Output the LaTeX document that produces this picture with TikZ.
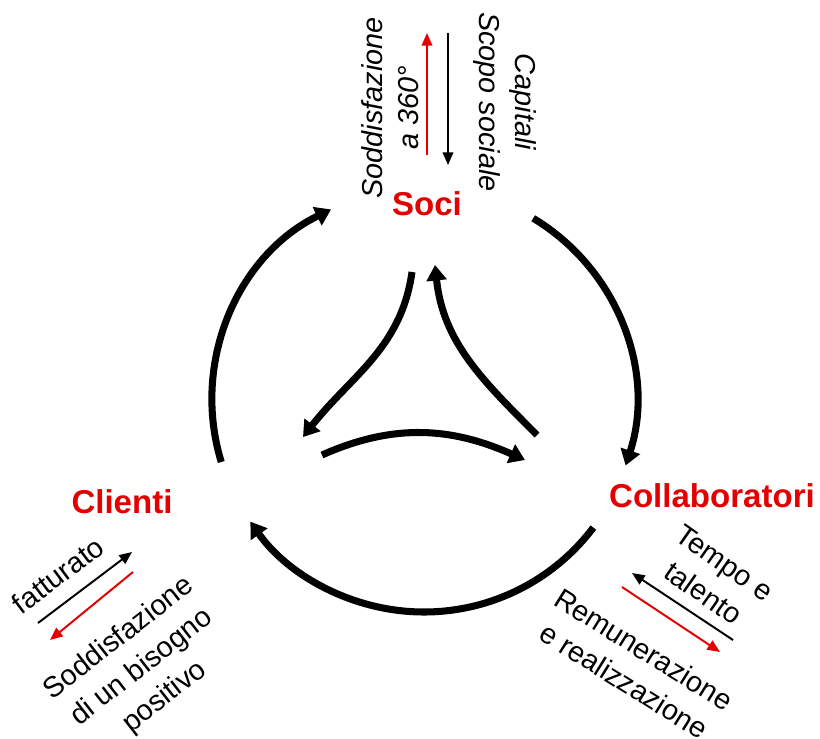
\documentclass[tikz,border=0pt]{standalone}
\usepackage{fontspec}
\setmainfont{Liberation Sans}
\usetikzlibrary{arrows.meta}
\definecolor{flowred}{RGB}{228,0,0}

\begin{document}
\begin{tikzpicture}[x=0.025cm,y=0.025cm,
  bigarrow/.style={line width=5pt,-{Triangle[length=11pt,width=14pt]}},
  thinarrow/.style={line width=1.4pt,-{Triangle[length=9pt,width=7.5pt]}},
  actor/.style={font=\fontsize{23.5}{26}\selectfont\bfseries,text=flowred,inner sep=0pt},
  flowtext/.style={font=\fontsize{20.5}{26.5}\selectfont,align=center,inner sep=0pt}]
\useasboundingbox (0,0) rectangle (820,738);

% actors
\node[actor] (soci) at (427,534) {Soci};
\node[actor] (clienti) at (122,236) {Clienti};
\node[actor] (collab) at (712,242) {Collaboratori};

% outer ring
\coordinate (ring) at (424,338);
\draw[bigarrow] ([shift={(197:212)}]ring) arc[start angle=197,end angle=116,radius=212];
\draw[bigarrow] ([shift={(59:212)}]ring) arc[start angle=59,end angle=-18,radius=212];
\draw[bigarrow] ([shift={(-37:212)}]ring) arc[start angle=-37,end angle=-145,radius=212];

% inner triangle
\coordinate (inLa) at (412,466);
\coordinate (inLb) at (303,301);
\coordinate (inRa) at (537,303);
\coordinate (inRb) at (435,473);
\coordinate (inBa) at (322,283);
\coordinate (inBb) at (525,278);
\draw[bigarrow] (inLa) to[out=-98,in=52] (inLb);
\draw[bigarrow] (inRa) to[out=135,in=-84] (inRb);
\draw[bigarrow] (inBa) to[out=24,in=156] (inBb);

% soci flows
\coordinate (sociRa) at (427,583);
\coordinate (sociRb) at (427,705);
\coordinate (sociKa) at (448,705);
\coordinate (sociKb) at (448,573);
\draw[thinarrow,flowred] (sociRa) -- (sociRb);
\draw[thinarrow] (sociKa) -- (sociKb);
\node[flowtext,font=\fontsize{20.5}{26}\selectfont\itshape,rotate=90] (sociIn) at (390,630) {Soddisfazione\\a 360°};
\node[flowtext,font=\fontsize{20.5}{26}\selectfont\itshape,rotate=-90] (sociOut) at (505,636) {Capitali\\Scopo sociale};

% clienti flows
\coordinate (cliKa) at (38,115);
\coordinate (cliKb) at (132,186);
\coordinate (cliRa) at (133,166);
\coordinate (cliRb) at (50,98);
\draw[thinarrow] (cliKa) -- (cliKb);
\draw[thinarrow,flowred] (cliRa) -- (cliRb);
\node[flowtext,rotate=37] (cliIn) at (58,163) {fatturato};
\node[flowtext,rotate=38] (cliOut) at (142,70) {Soddisfazione\\di un bisogno\\positivo};

% collaboratori flows
\coordinate (colKa) at (733,98);
\coordinate (colKb) at (632,165);
\coordinate (colRa) at (622,151);
\coordinate (colRb) at (720,86);
\draw[thinarrow] (colKa) -- (colKb);
\draw[thinarrow,flowred] (colRa) -- (colRb);
\node[flowtext,rotate=-35] (colIn) at (714,160) {Tempo e\\talento};
\node[flowtext,rotate=-32] (colOut) at (634,73) {Remunerazione\\e realizzazione};
\end{tikzpicture}
\end{document}
